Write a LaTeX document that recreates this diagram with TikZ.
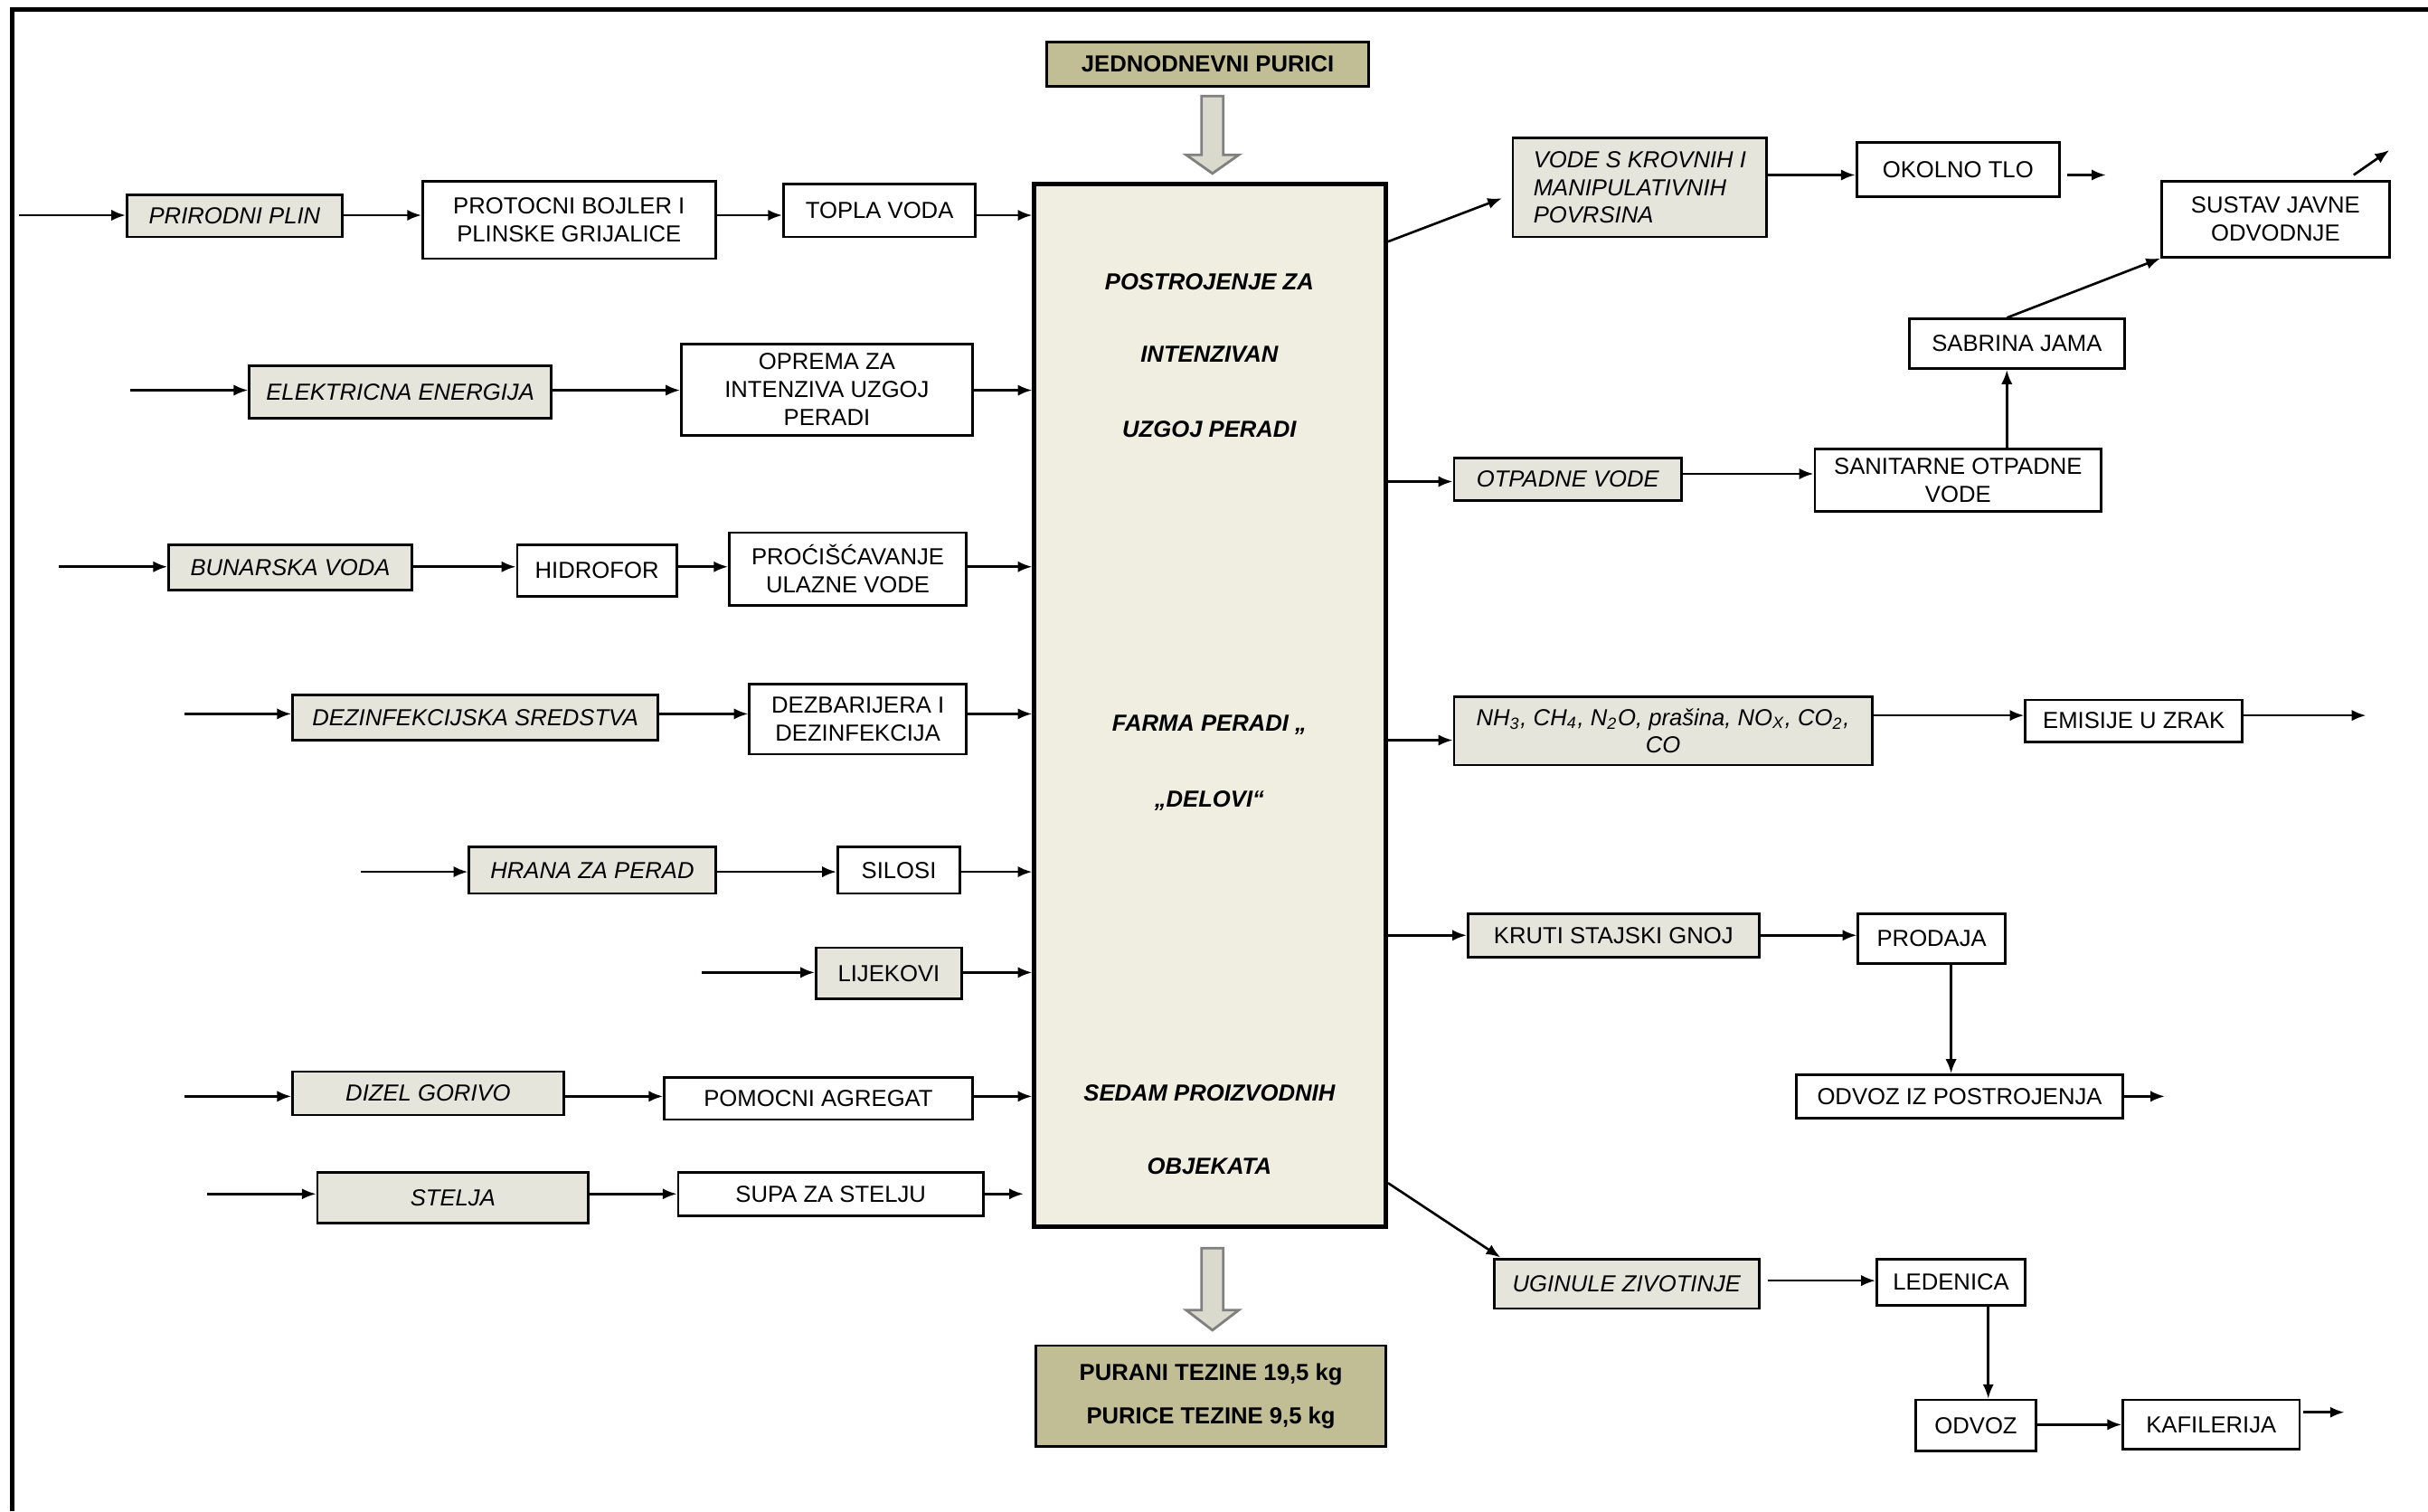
\documentclass[tikz,border=0pt]{standalone}
\usepackage{fontspec}
\setmainfont{Liberation Sans}
\usetikzlibrary{arrows.meta}

\definecolor{srcgray}{RGB}{229,229,220}
\definecolor{farmfill}{RGB}{239,238,225}
\definecolor{olivefill}{RGB}{193,190,150}
\definecolor{blockgray}{RGB}{218,217,205}

\tikzset{
  corners/.style n args={4}{minimum width={(#3-#1)*0.17124mm}, minimum height={(#4-#2)*0.17124mm},
    at={({(#1+#3)/2},{(#2+#4)/2})}},
  box/.style={draw, line width=0.8pt, inner sep=0pt, align=center,
    font=\fontsize{7.3}{8.8}\selectfont},
  srcbox/.style={box, fill=srcgray, font=\fontsize{7.3}{8.8}\selectfont\itshape},
  graybox/.style={box, fill=srcgray},
  olivebox/.style={box, fill=olivefill, font=\fontsize{7.3}{8.8}\selectfont\bfseries},
  farmbox/.style={draw, line width=1.4pt, fill=farmfill, inner sep=0pt},
  farmtxt/.style={font=\fontsize{7.3}{8.8}\selectfont\bfseries\itshape},
  blockarrow/.style={draw=gray, line width=0.8pt, fill=blockgray}
}

\begin{document}
\begin{tikzpicture}[x=0.17124mm, y=-0.17124mm, >={Latex[length=4.5pt,width=3.5pt]}, line width=0.75pt]
\useasboundingbox (0,0) rectangle (1568,976);
\draw[line width=1.5pt] (8,976) -- (8,6) -- (1568,6);

% ulaz, farma, izlaz
\node[olivebox, corners={676}{27}{884}{56}] (purici) {JEDNODNEVNI PURICI};
\node[farmbox, corners={668}{119}{895}{792}] (farma) {};
\node[olivebox, corners={669}{869}{895}{934}] (purani) {PURANI TEZINE 19,5 kg\\[5pt]PURICE TEZINE 9,5 kg};
\draw[blockarrow] (776,62) -- (790,62) -- (790,100) -- (800,100) -- (783,112) -- (766,100) -- (776,100) -- cycle;
\draw[blockarrow] (776,806) -- (790,806) -- (790,846) -- (800,846) -- (783,859) -- (766,846) -- (776,846) -- cycle;

\foreach \y/\t in {182/POSTROJENJE ZA, 229/INTENZIVAN, 277/UZGOJ PERADI, 468/FARMA PERADI „, 517/„DELOVI“, 706/SEDAM  PROIZVODNIH, 753/OBJEKATA}
  \node[farmtxt] (ft\y) at (781,\y) {\t};

% plin
\coordinate (in1) at (12,139);
\node[srcbox, corners={82}{126}{221}{153}] (plin) {PRIRODNI PLIN};
\node[box, corners={273}{117}{462}{167}] (bojler) {PROTOCNI BOJLER I\\PLINSKE GRIJALICE};
\node[box, corners={506}{119}{630}{153}] (topla) {TOPLA VODA};
\draw[->] (in1) -- (plin.west |- in1);
\draw[->] (plin.east |- in1) -- (bojler.west |- in1);
\draw[->] (bojler.east |- in1) -- (topla.west |- in1);
\draw[->] (topla.east |- in1) -- (farma.west |- in1);

% struja
\coordinate (in2) at (84,252);
\node[srcbox, corners={161}{236}{356}{270}] (struja) {ELEKTRICNA ENERGIJA};
\node[box, corners={440}{222}{628}{281}] (oprema) {OPREMA ZA\\INTENZIVA UZGOJ\\PERADI};
\draw[->] (in2) -- (struja.west |- in2);
\draw[->] (struja.east |- in2) -- (oprema.west |- in2);
\draw[->] (oprema.east |- in2) -- (farma.west |- in2);

% voda
\coordinate (in3) at (38,366);
\node[srcbox, corners={109}{352}{266}{381}] (bunar) {BUNARSKA VODA};
\node[box, corners={334}{352}{437}{385}] (hidrofor) {HIDROFOR};
\node[box, corners={471}{344}{624}{391}] (prociscavanje) {PROĆIŠĆAVANJE\\ULAZNE VODE};
\draw[->] (in3) -- (bunar.west |- in3);
\draw[->] (bunar.east |- in3) -- (hidrofor.west |- in3);
\draw[->] (hidrofor.east |- in3) -- (prociscavanje.west |- in3);
\draw[->] (prociscavanje.east |- in3) -- (farma.west |- in3);

% dezinfekcija
\coordinate (in4) at (119,461);
\node[srcbox, corners={189}{449}{425}{478}] (sredstva) {DEZINFEKCIJSKA SREDSTVA};
\node[box, corners={484}{442}{624}{487}] (dezbarijera) {DEZBARIJERA I\\DEZINFEKCIJA};
\draw[->] (in4) -- (sredstva.west |- in4);
\draw[->] (sredstva.east |- in4) -- (dezbarijera.west |- in4);
\draw[->] (dezbarijera.east |- in4) -- (farma.west |- in4);

% hrana
\coordinate (in5) at (233,563);
\node[srcbox, corners={303}{547}{462}{577}] (hrana) {HRANA ZA PERAD};
\node[box, corners={541}{547}{620}{577}] (silosi) {SILOSI};
\draw[->] (in5) -- (hrana.west |- in5);
\draw[->] (hrana.east |- in5) -- (silosi.west |- in5);
\draw[->] (silosi.east |- in5) -- (farma.west |- in5);

% lijekovi
\coordinate (in6) at (453,628);
\node[graybox, corners={527}{612}{621}{645}] (lijekovi) {LIJEKOVI};
\draw[->] (in6) -- (lijekovi.west |- in6);
\draw[->] (lijekovi.east |- in6) -- (farma.west |- in6);

% dizel
\coordinate (in7) at (119,708);
\node[srcbox, corners={189}{692}{364}{720}] (dizel) {DIZEL GORIVO};
\node[box, corners={429}{696}{628}{723}] (agregat) {POMOCNI AGREGAT};
\draw[->] (in7) -- (dizel.west |- in7);
\draw[->] (dizel.east |- in7) -- (agregat.west |- in7);
\draw[->] (agregat.east |- in7) -- (farma.west |- in7);

% stelja
\coordinate (in8) at (134,771);
\coordinate (out8) at (661,771);
\node[srcbox, corners={205}{757}{380}{790}] (stelja) {STELJA};
\node[box, corners={438}{757}{635}{785}] (supa) {SUPA ZA STELJU};
\draw[->] (in8) -- (stelja.west |- in8);
\draw[->] (stelja.east |- in8) -- (supa.west |- in8);
\draw[->] (supa.east |- in8) -- (out8);

% oborinske vode
\node[srcbox, align=left, corners={977}{89}{1141}{153}] (krov) {VODE S KROVNIH I\\MANIPULATIVNIH\\POVRSINA};
\node[box, corners={1199}{92}{1330}{127}] (tlo) {OKOLNO TLO};
\node[box, corners={1396}{117}{1543}{166}] (sustav) {SUSTAV JAVNE\\ODVODNJE};
\node[box, corners={1233}{206}{1372}{238}] (sabrina) {SABRINA JAMA};
\coordinate (out9) at (1360,113);
\coordinate (up1) at (1520,113);
\coordinate (up2) at (1543,97);
\draw[->] (farma.east |- 0,156) -- (970,128);
\draw[->] (krov.east |- 0,113) -- (tlo.west |- 0,113);
\draw[->] ([xshift=0.7mm]tlo.east |- out9) -- (out9);
\draw[->] (up1) -- (up2);
\draw[->] (sabrina.north -| 1296,0) -- (sustav.south west);

% otpadne vode
\node[srcbox, corners={939}{296}{1086}{323}] (otpadne) {OTPADNE VODE};
\node[box, corners={1172}{290}{1357}{330}] (sanitarne) {SANITARNE OTPADNE\\VODE};
\draw[->] (farma.east |- 0,311) -- (otpadne.west |- 0,311);
\draw[->] (otpadne.east |- 0,306) -- (sanitarne.west |- 0,306);
\draw[->] (sanitarne.north -| 1296,0) -- (sabrina.south -| 1296,0);

% emisije
\coordinate (out10) at (1528,462);
\node[srcbox, corners={939}{450}{1209}{494}] (plinovi) {NH\textsubscript{3}, CH\textsubscript{4}, N\textsubscript{2}O, prašina, NO\textsubscript{X}, CO\textsubscript{2},\\CO};
\node[box, corners={1308}{452}{1448}{479}] (emisije) {EMISIJE U ZRAK};
\draw[->] (farma.east |- 0,478) -- (plinovi.west |- 0,478);
\draw[->] (plinovi.east |- out10) -- (emisije.west |- out10);
\draw[->] (emisije.east |- out10) -- (out10);

% gnoj
\coordinate (out11) at (1398,708);
\node[graybox, corners={948}{590}{1136}{618}] (gnoj) {KRUTI STAJSKI GNOJ};
\node[box, corners={1200}{590}{1295}{622}] (prodaja) {PRODAJA};
\node[box, corners={1160}{694}{1371}{722}] (odvozpost) {ODVOZ IZ POSTROJENJA};
\draw[->] (farma.east |- 0,604) -- (gnoj.west |- 0,604);
\draw[->] (gnoj.east |- 0,604) -- (prodaja.west |- 0,604);
\draw[->] (prodaja.south -| 1260,0) -- (odvozpost.north -| 1260,0);
\draw[->] (odvozpost.east |- out11) -- (out11);

% uginule zivotinje
\coordinate (out12) at (1514,912);
\node[srcbox, corners={965}{813}{1136}{845}] (uginule) {UGINULE ZIVOTINJE};
\node[box, corners={1212}{813}{1308}{843}] (ledenica) {LEDENICA};
\node[box, corners={1237}{904}{1315}{937}] (odvoz) {ODVOZ};
\node[box, corners={1371}{904}{1485}{936}] (kafilerija) {KAFILERIJA};
\draw[->] (farma.east |- 0,764) -- (969,812);
\draw[->] ([xshift=0.8mm]uginule.east |- 0,827) -- (ledenica.west |- 0,827);
\draw[->] (ledenica.south -| 1284,0) -- (odvoz.north -| 1284,0);
\draw[->] (odvoz.east |- 0,920) -- (kafilerija.west |- 0,920);
\draw[->] ([xshift=0.3mm]kafilerija.east |- out12) -- (out12);
\end{tikzpicture}
\end{document}
